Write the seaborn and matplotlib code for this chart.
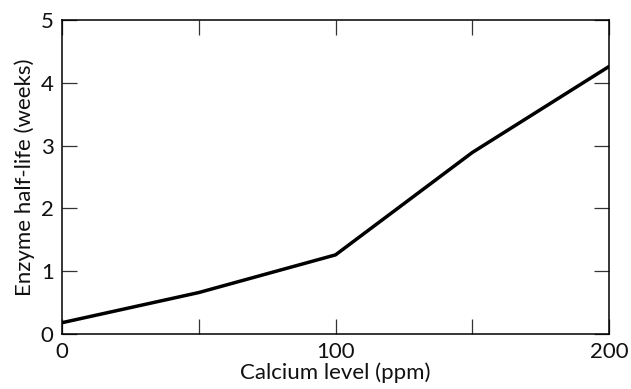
import seaborn as sns
import matplotlib.pyplot as plt
import pandas as pd

calcium_ppm = [0, 50, 100, 150, 200]
half_life_weeks = [0.18, 0.66, 1.26, 2.89, 4.26]
x_ticks = [0, 50, 100, 150, 200]
x_tick_labels = ["0", "", "100", "", "200"]
y_ticks = [0, 1, 2, 3, 4, 5]


def main():
    sns.set_theme(style="white")
    plt.rcParams['font.family'] = ['Lato', 'DejaVu Sans']

    df = pd.DataFrame({"calcium": calcium_ppm, "half_life": half_life_weeks})

    fig = plt.figure(figsize=(6.31, 3.89), dpi=100)
    ax = fig.add_axes([0.0983, 0.1414, 0.8669, 0.8072])
    sns.lineplot(data=df, x="calcium", y="half_life", ax=ax,
                 color="black", linewidth=2.5)

    ax.set_xlim(0, 200)
    ax.set_ylim(0, 5)
    ax.set_xticks(x_ticks)
    ax.set_xticklabels(x_tick_labels)
    ax.set_yticks(y_ticks)

    for side in ["left", "right", "top", "bottom"]:
        ax.spines[side].set_visible(True)
        ax.spines[side].set_color("black")
        ax.spines[side].set_linewidth(1.1)

    ax.tick_params(axis="both", direction="in", length=11, width=0.9,
                   color="#333333", labelsize=16, labelcolor="#111111")
    ax.tick_params(axis="x", top=True, bottom=True, pad=6)
    ax.tick_params(axis="y", left=True, right=True, pad=6)

    ax.set_xlabel("Calcium level (ppm)", fontsize=16, color="#111111",
                  labelpad=0)
    ax.set_ylabel("Enzyme half-life (weeks)", fontsize=16, color="#111111",
                  labelpad=4)

    fig.savefig("out.png", dpi=100)


if __name__ == "__main__":
    main()
